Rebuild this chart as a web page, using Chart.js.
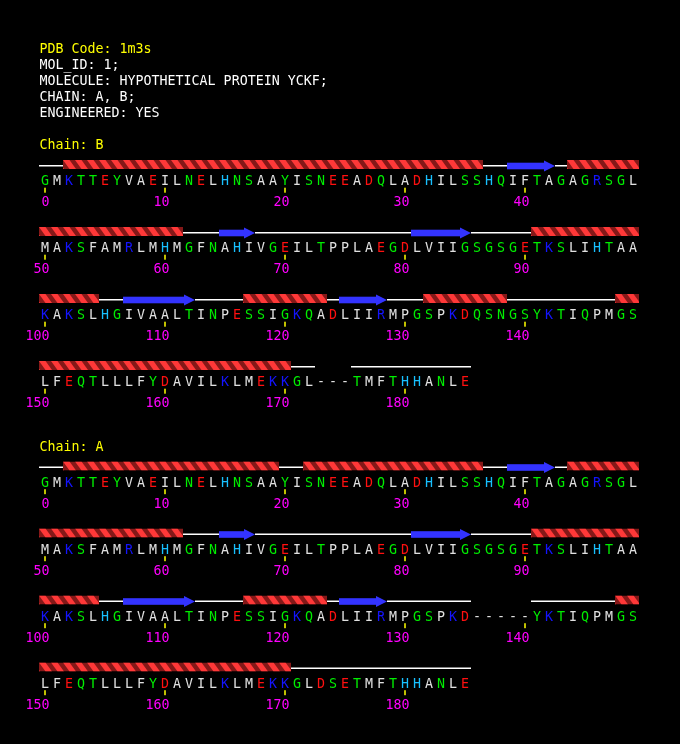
<!DOCTYPE html>
<html><head><meta charset="utf-8">
<script src="https://cdn.jsdelivr.net/npm/chart.js@4.4.0/dist/chart.umd.min.js"></script>
<style>html,body{margin:0;padding:0;background:#000;}canvas{display:block;}</style>
</head><body>
<canvas id="c" width="680" height="744"></canvas>
<script>
// ---------- data ----------
const headerLines = ["PDB Code: 1m3s", "MOL_ID: 1;", "MOLECULE: HYPOTHETICAL PROTEIN YCKF;", "CHAIN: A, B;", "ENGINEERED: YES"];
const chainNames = ["B", "A"];
const seqChainB = [
  "GMKTTEYVAEILNELHNSAAYISNEEADQLADHILSSHQIFTAGAGRSGL",
  "MAKSFAMRLMHMGFNAHIVGEILTPPLAEGDLVIIGSGSGETKSLIHTAA",
  "KAKSLHGIVAALTINPESSIGKQADLIIRMPGSPKDQSNGSYKTIQPMGS",
  "LFEQTLLLFYDAVILKLMEKKGL---TMFTHHANLE"
];
const seqChainA = [
  "GMKTTEYVAEILNELHNSAAYISNEEADQLADHILSSHQIFTAGAGRSGL",
  "MAKSFAMRLMHMGFNAHIVGEILTPPLAEGDLVIIGSGSGETKSLIHTAA",
  "KAKSLHGIVAALTINPESSIGKQADLIIRMPGSPKD-----YKTIQPMGS",
  "LFEQTLLLFYDAVILKLMEKKGLDSETMFTHHANLE"
];
// residue ranges [first, last]
const helixChainB  = [[2,36],[44,61],[91,104],[117,123],[132,138],[148,170]];
const strandChainB = [[39,42],[65,67],[81,85],[107,112],[125,128]];
const missingChainB = [[173,175]];
const helixChainA  = [[2,19],[22,36],[44,61],[91,104],[117,123],[148,170]];
const strandChainA = [[39,42],[65,67],[81,85],[107,112],[125,128]];
const missingChainA = [[136,140]];
const tickStep = 10;
const residuesPerRow = 50;

// ---------- styling ----------
const FONT = '13.3px "DejaVu Sans Mono", "Liberation Mono", monospace';
const C_WHITE = '#ffffff', C_YELLOW = '#ffff00', C_MAGENTA = '#ff00ff';
const C_HELIX = '#ff3838', C_HELIX_DARK = '#851818', C_STRAND = '#3333ff';
const groupColors = [
  ["AVLIMFPWC", '#e0e0e0'],
  ["GSTNQY", '#00ee00'],
  ["DE", '#ff1010'],
  ["KR", '#1414ff'],
  ["H", '#18c0ff'],
  ["-", '#e0e0e0']
];
function resColor(ch) {
  for (const [s, c] of groupColors) if (s.includes(ch)) return c;
  return '#e0e0e0';
}

const chains = [
  { name: chainNames[0], seq: seqChainB, helix: helixChainB, strand: strandChainB, missing: missingChainB },
  { name: chainNames[1], seq: seqChainA, helix: helixChainA, strand: strandChainA, missing: missingChainA }
];
const chainRowOffset = [0, 4.5];

function inRanges(i, ranges) { return ranges.some(([a, b]) => i >= a && i <= b); }
function splitByRow(a, b) {
  const out = [];
  let s = a;
  while (s <= b) {
    const r = Math.floor(s / residuesPerRow);
    const e = Math.min(b, (r + 1) * residuesPerRow - 1);
    out.push([r, s - r * residuesPerRow, e - r * residuesPerRow, e === b]);
    s = e + 1;
  }
  return out;
}

// coil lines as line datasets
const LINE_OFF = -14.3 / 67;
const datasets = chains.map((ch, ci) => {
  const pts = [];
  for (let r = 0; r < ch.seq.length; r++) {
    const rowLen = ch.seq[r].length;
    let start = null;
    for (let c = 0; c <= rowLen; c++) {
      const i = r * residuesPerRow + c;
      const isCoil = c < rowLen && !inRanges(i, ch.helix) && !inRanges(i, ch.strand) && !inRanges(i, ch.missing);
      if (isCoil && start === null) start = c;
      if (!isCoil && start !== null) {
        const yv = chainRowOffset[ci] + r + LINE_OFF;
        pts.push({ x: start - 0.5, y: yv }, { x: c - 0.5, y: yv }, { x: c - 0.5, y: null });
        start = null;
      }
    }
  }
  return { type: 'line', label: 'coil ' + ch.name, data: pts, borderColor: C_WHITE, borderWidth: 1.5,
           pointRadius: 0, spanGaps: false, tension: 0, fill: false };
});

const seqPlugin = {
  id: 'seqPlugin',
  beforeDraw(chart) {
    const ctx = chart.ctx;
    ctx.save(); ctx.fillStyle = '#000'; ctx.fillRect(0, 0, chart.width, chart.height); ctx.restore();
  },
  afterDatasetsDraw(chart) {
    const ctx = chart.ctx, xs = chart.scales.x, ys = chart.scales.y;
    const px = c => xs.getPixelForValue(c);
    const pw = xs.getPixelForValue(1) - xs.getPixelForValue(0);
    ctx.save();
    ctx.font = FONT;
    ctx.textBaseline = 'alphabetic';
    ctx.textAlign = 'left';
    headerLines.forEach((t, i) => {
      ctx.fillStyle = i === 0 ? C_YELLOW : C_WHITE;
      ctx.fillText(t, px(-0.5) + 0.5, 53 + 16 * i);
    });
    chains.forEach((ch, ci) => {
      const rowY = r => ys.getPixelForValue(chainRowOffset[ci] + r);
      ctx.textAlign = 'left';
      ctx.fillStyle = C_YELLOW;
      ctx.fillText('Chain: ' + ch.name, px(-0.5) + 0.5, rowY(0) - 31);
      // helices
      ch.helix.forEach(([a, b]) => splitByRow(a, b).forEach(([r, c1, c2]) => {
        const xl = px(c1 - 0.5), xr = px(c2 + 0.5);
        const yc = rowY(r);
        const top = yc - 20, bot = yc - 11;
        ctx.save();
        ctx.beginPath(); ctx.rect(xl, top, xr - xl, bot - top); ctx.clip();
        ctx.fillStyle = C_HELIX_DARK;
        ctx.fillRect(xl, top, xr - xl, bot - top);
        ctx.fillStyle = C_HELIX;
        for (let x0 = xl - 2 * pw; x0 < xr + pw; x0 += pw) {
          ctx.beginPath();
          ctx.moveTo(x0, top); ctx.lineTo(x0 + 6.5, top);
          ctx.lineTo(x0 + 13, bot); ctx.lineTo(x0 + 6.5, bot);
          ctx.closePath(); ctx.fill();
        }
        ctx.restore();
      }));
      // strands
      ch.strand.forEach(([a, b]) => splitByRow(a, b).forEach(([r, c1, c2, isEnd]) => {
        const xl = px(c1 - 0.5), xr = px(c2 + 0.5);
        const yc = rowY(r) - 14;
        ctx.fillStyle = C_STRAND;
        const head = isEnd ? 11 : 0;
        ctx.fillRect(xl, yc - 3.3, xr - xl - head, 6.6);
        if (isEnd) {
          ctx.beginPath();
          ctx.moveTo(xr - head, yc - 5.5); ctx.lineTo(xr, yc); ctx.lineTo(xr - head, yc + 5.5);
          ctx.closePath(); ctx.fill();
        }
      }));
      // letters, ticks, numbers
      ch.seq.forEach((rowSeq, r) => {
        const yc = rowY(r);
        for (let c = 0; c < rowSeq.length; c++) {
          const i = r * residuesPerRow + c;
          const cx = px(c);
          ctx.textAlign = 'center';
          ctx.fillStyle = resColor(rowSeq[c]);
          ctx.fillText(rowSeq[c], cx, yc + 5);
          if (i % tickStep === 0) {
            ctx.fillStyle = C_YELLOW;
            ctx.fillRect(cx - 0.75, yc + 7.7, 1.5, 5);
            ctx.fillStyle = C_MAGENTA;
            ctx.textAlign = 'right';
            ctx.fillText(String(i), cx + 4.5, yc + 26);
          }
        }
      });
    });
    ctx.restore();
  }
};

new Chart(document.getElementById('c'), {
  type: 'line',
  data: { datasets },
  options: {
    responsive: false,
    animation: false,
    devicePixelRatio: 1,
    layout: { padding: 0 },
    plugins: { legend: { display: false }, tooltip: { enabled: false } },
    scales: {
      x: { type: 'linear', display: false, min: -45 / 12, max: (680 - 45) / 12 },
      y: { type: 'linear', display: false, reverse: true, min: -180 / 67, max: (744 - 180) / 67 }
    }
  },
  plugins: [seqPlugin]
});
</script>
</body></html>
